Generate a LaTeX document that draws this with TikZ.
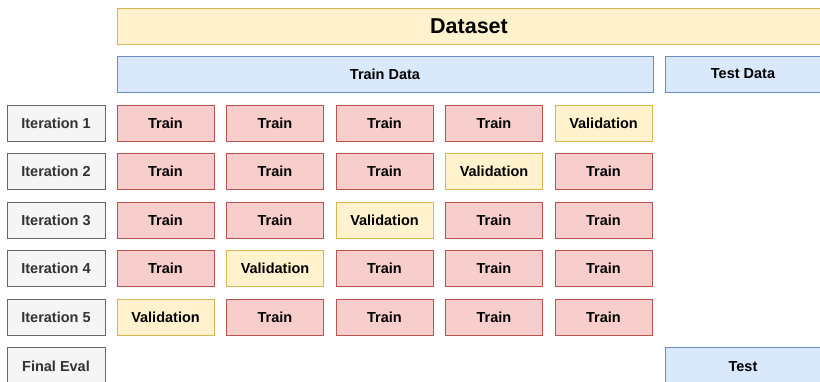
\documentclass[tikz,border=0pt]{standalone}
\usepackage{fontspec}
\setmainfont{Liberation Sans}
\definecolor{yfill}{HTML}{FFF2CC}\definecolor{ystroke}{HTML}{D6B656}
\definecolor{bfill}{HTML}{DAE8FC}\definecolor{bstroke}{HTML}{6C8EBF}
\definecolor{rfill}{HTML}{F8CECC}\definecolor{rstroke}{HTML}{B85450}
\definecolor{gfill}{HTML}{F5F5F5}\definecolor{gstroke}{HTML}{666666}
\definecolor{gtext}{HTML}{333333}
\tikzset{
  cell/.style={rectangle, anchor=north west, inner sep=0pt, outer sep=0pt,
    minimum width=97pt, minimum height=36pt, line width=0.9pt,
    font=\fontsize{14.5}{16}\selectfont\bfseries},
  trainbox/.style={cell, fill=rfill, draw=rstroke},
  valbox/.style={cell, fill=yfill, draw=ystroke},
  databox/.style={cell, fill=bfill, draw=bstroke},
  iterbox/.style={cell, fill=gfill, draw=gstroke, text=gtext, minimum width=98pt},
}
\begin{document}
\begin{tikzpicture}[x=1pt, y=-1pt]
\useasboundingbox (0,0) rectangle (820,382);
% header bars
\node[valbox, minimum width=704pt, font=\fontsize{21.5}{24}\selectfont\bfseries] (dataset) at (117,8) {Dataset};
\node[databox, minimum width=536pt] (traindata) at (117,56) {Train Data};
\node[databox, minimum width=156pt] (testdata) at (665,56) {Test Data};
% folds: iteration i validates on column 6-i
\foreach \i in {1,...,5}{
  \pgfmathsetmacro{\ytop}{105+48.5*(\i-1)}
  \node[iterbox] (it\i) at (7,\ytop) {Iteration \i};
  \foreach \c in {1,...,5}{
    \pgfmathsetmacro{\xl}{117+109.5*(\c-1)}
    \pgfmathtruncatemacro{\v}{6-\i}
    \ifnum\c=\v
      \node[valbox] (f\i-\c) at (\xl,\ytop) {Validation};
    \else
      \node[trainbox] (f\i-\c) at (\xl,\ytop) {Train};
    \fi
  }
}
% final evaluation row
\node[iterbox, minimum height=38pt] (final) at (7,347.5) {Final Eval};
\node[databox, minimum width=156pt, minimum height=38pt] (test) at (665,347.5) {Test};
\end{tikzpicture}
\end{document}
